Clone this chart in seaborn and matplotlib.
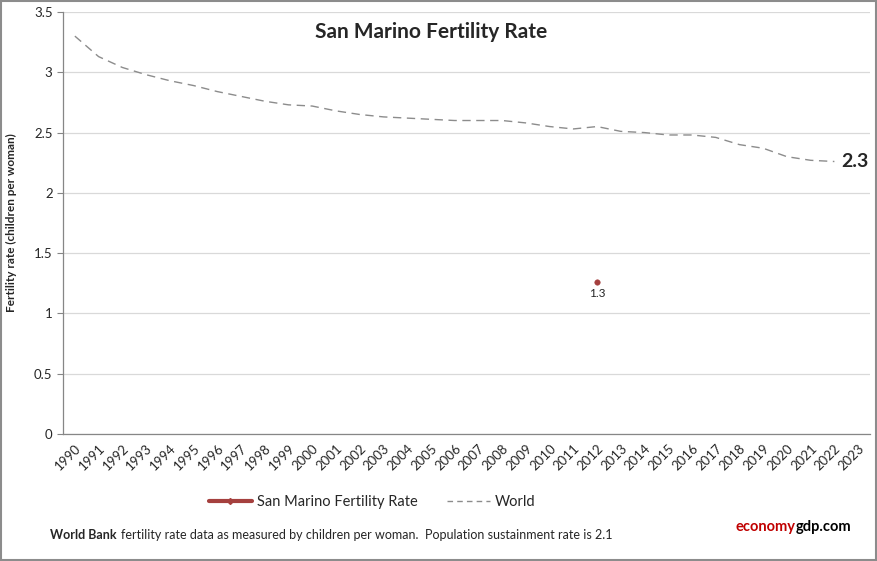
import numpy as np
import pandas as pd
import matplotlib
matplotlib.use("Agg")
import matplotlib.pyplot as plt
import seaborn as sns
from matplotlib.patches import Rectangle
from matplotlib.lines import Line2D

years = [str(y) for y in range(1990, 2024)]
world = [3.30, 3.13, 3.04, 2.98, 2.93, 2.89, 2.84, 2.80, 2.76, 2.73,
         2.72, 2.68, 2.65, 2.63, 2.62, 2.61, 2.60, 2.60, 2.60, 2.58,
         2.55, 2.53, 2.55, 2.51, 2.50, 2.48, 2.48, 2.46, 2.40, 2.37,
         2.30, 2.27, 2.26]
sm_year = ["2012"]
sm_rate = [1.26]

sns.set_style("white")
plt.rcParams['font.family'] = ['Lato', 'DejaVu Sans']

df_world = pd.DataFrame({"x": [years.index(y) for y in years[:len(world)]], "rate": world})
df_sm = pd.DataFrame({"x": [years.index(y) for y in sm_year], "rate": sm_rate})

fig = plt.figure(figsize=(8.78, 5.61), dpi=100)
ax = fig.add_axes([63/878, 1-434/561, (870-63)/878, (434-12)/561])

grey_line = "#8c8c8c"
red = "#a5403e"

sns.lineplot(data=df_world, x="x", y="rate", ax=ax, color=grey_line,
             linewidth=1.0, linestyle=(0, (6, 4)), label="World")
sns.scatterplot(data=df_sm, x="x", y="rate", ax=ax, color=red, s=16,
                edgecolor=red, zorder=5, legend=False)

ax.set_xlim(-0.5, len(years) - 0.5)
ax.set_ylim(0, 3.5)
ax.set_yticks(np.arange(0, 3.51, 0.5))
ax.set_yticklabels(["0", "0.5", "1", "1.5", "2", "2.5", "3", "3.5"], fontsize=9.5)
ax.set_xticks(range(len(years)))
ax.set_xticklabels(years, rotation=45, ha="right", rotation_mode="anchor", fontsize=9.5)
ax.set_xticks(np.arange(-0.5, len(years), 1), minor=True)
ax.tick_params(axis="x", which="major", length=0, pad=6)
ax.tick_params(axis="x", which="minor", length=4, color="#868686", direction="out")
ax.tick_params(axis="y", length=4, color="#868686", direction="out", left=True)
ax.grid(axis="y", color="#d9d9d9", linewidth=0.9)
ax.set_axisbelow(True)
for s in ["top", "right"]:
    ax.spines[s].set_visible(False)
for s in ["left", "bottom"]:
    ax.spines[s].set_color("#868686")
    ax.spines[s].set_linewidth(0.9)

ax.set_xlabel("")
ax.set_ylabel("Fertility rate (children per woman)", fontsize=8.5, fontweight="bold", labelpad=12)

fig.text(431/878, 1-32/561, "San Marino Fertility Rate", fontsize=15, fontweight="bold",
         ha="center", va="center")

# data labels
ax.text(df_sm["x"][0], sm_rate[0] - 0.05, f"{sm_rate[0]:.1f}", ha="center", va="top", fontsize=8.5)
ax.text(len(years) - 0.58, world[-1], f"{world[-1]:.1f}", ha="right", va="center",
        fontsize=14, fontweight="bold")

# legend below
ax.legend_.remove()
handles = [Line2D([0], [0], color=red, linewidth=3, marker="D", markersize=3),
           Line2D([0], [0], color=grey_line, linewidth=1, linestyle=(0, (4, 3)))]
fig.legend(handles, ["San Marino Fertility Rate", "World"], loc="center",
           bbox_to_anchor=(372/878, 1-502/561), ncol=2, frameon=False,
           fontsize=10.5, handlelength=3.0, handletextpad=0.3, columnspacing=2.0)

fig.text(50/878, 1-535/561, "World Bank", fontsize=9, fontweight="bold", va="center")
fig.text(121/878, 1-535/561, "fertility rate data as measured by children per woman.  Population sustainment rate is 2.1",
         fontsize=9, va="center")
fig.text(796/878, 1-527/561, "economy", fontsize=10.5, fontweight="bold", color="#c00000",
         va="center", ha="right")
fig.text(796/878, 1-527/561, "gdp.com", fontsize=10.5, fontweight="bold", color="black",
         va="center", ha="left")

fig.patches.append(Rectangle((0.001, 0.001), 0.997, 0.997, transform=fig.transFigure,
                             fill=False, edgecolor="#8c8c8c", linewidth=1.5))

fig.savefig("out.png", dpi=100)
